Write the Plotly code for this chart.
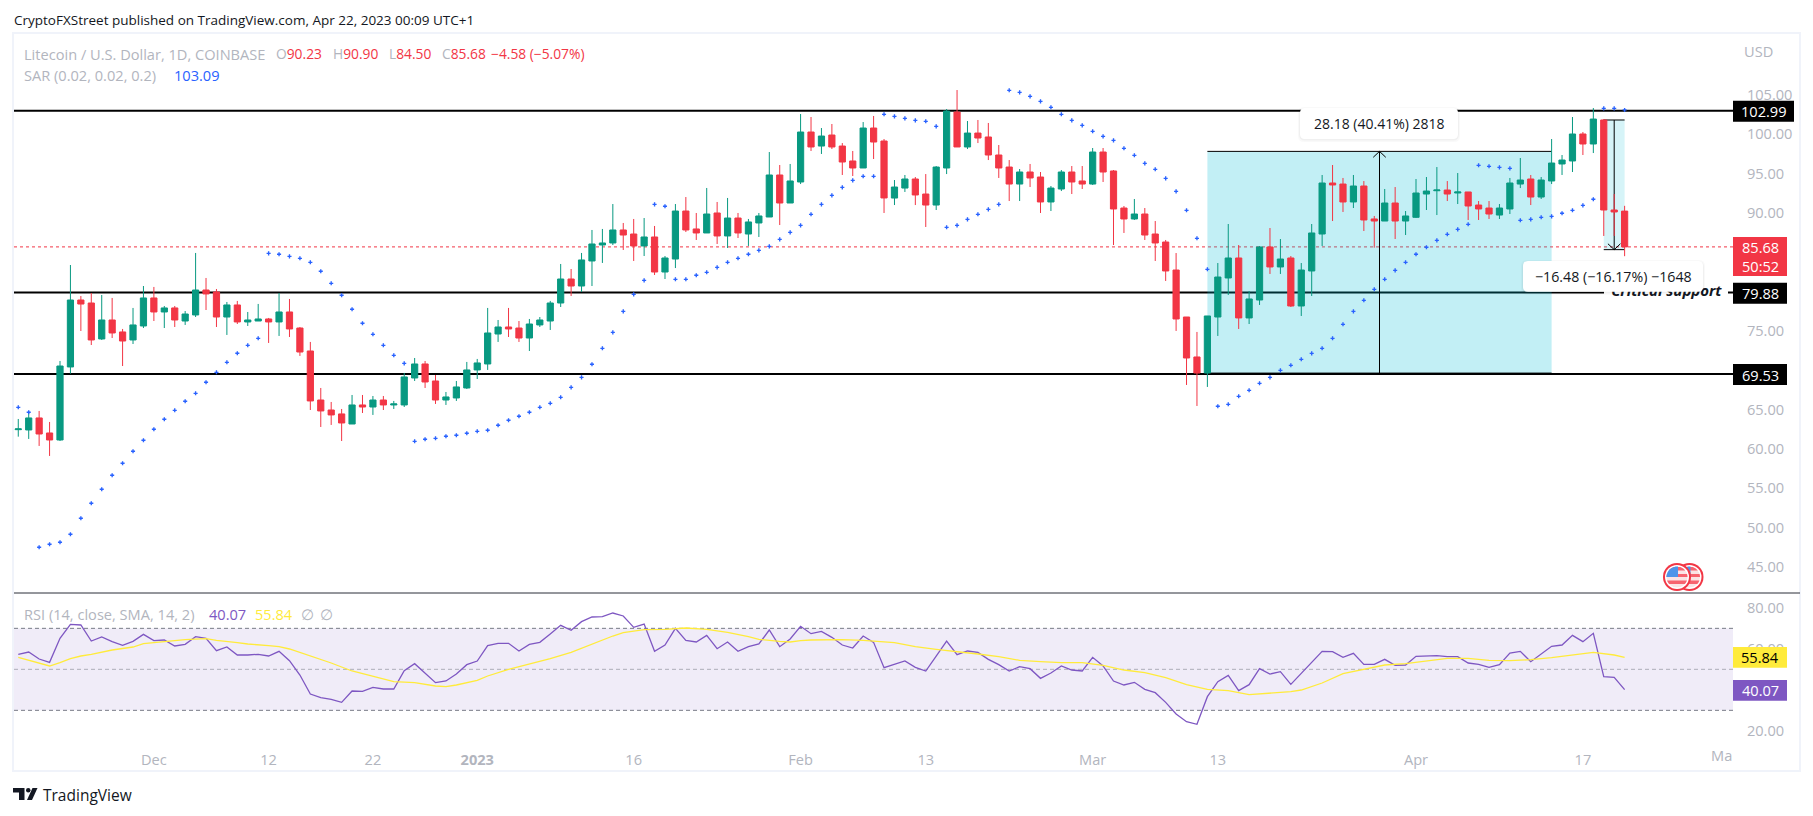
import numpy as np
import pandas as pd
import plotly.graph_objects as go

W, H = 1813, 816
FONT = "Open Sans"
INK = "#131722"
GREY = "#b2b5be"
GREEN = "#089981"
RED = "#f23645"
BLUE = "#2962ff"
PURPLE = "#7e57c2"
YELLOW = "#ffeb3b"

first_day = "2022-11-18"

opens = [62.45,62.41,63.94,62.03,61.14,70.42,78.93,78.55,73.98,76.39,
74.87,73.85,75.63,79.19,77.41,77.92,76.26,77.03,80.20,79.95,
76.77,78.30,76.14,76.26,76.52,76.14,77.41,75.37,72.45,66.22,
64.95,64.45,63.17,65.59,65.33,66.22,65.59,65.59,69.02,70.80,
68.64,66.22,66.48,67.75,70.04,70.80,74.61,75.50,75.37,74.10,
75.76,76.26,78.55,81.60,80.71,83.89,85.92,86.18,87.83,87.32,
85.80,86.94,82.49,84.14,90.24,87.96,87.45,89.99,87.07,89.35,
87.32,88.72,89.48,94.82,91.26,93.93,100.28,98.50,99.90,98.50,
96.60,95.71,100.79,99.14,91.89,93.16,94.31,92.40,91.00,95.71,
102.82,98.38,100.15,99.65,97.36,95.83,93.67,95.20,94.56,91.39,
93.04,95.20,94.06,93.67,97.74,95.33,90.62,89.23,89.86,87.32,
86.30,82.74,76.77,71.69,69.65,76.77,81.73,84.27,76.65,78.93,
85.67,83.13,84.27,78.17,82.62,87.32,93.80,93.67,91.39,93.42,
89.23,88.97,91.26,88.97,89.44,92.40,92.82,92.91,92.53,92.66,
91.00,90.62,89.73,90.50,93.67,94.31,92.02,94.06,96.22,96.60,
100.03,98.76,101.81,90.37,90.23]

closes = [62.55,63.94,61.90,61.14,70.54,78.93,78.42,73.85,76.39,74.74,
73.72,75.76,79.19,77.41,77.92,76.39,77.15,80.20,79.70,76.77,
78.30,76.14,76.39,76.52,76.14,77.41,75.25,72.32,66.10,64.83,
64.32,63.30,65.59,65.33,66.22,65.59,65.72,69.15,70.80,68.51,
66.22,66.61,67.88,70.04,70.93,74.74,75.50,75.25,74.10,75.88,
76.39,78.55,81.60,80.71,84.02,86.05,86.18,87.83,87.19,85.80,
86.94,82.49,84.27,90.24,87.83,87.45,89.86,87.07,89.35,87.45,
88.85,89.61,94.82,91.26,94.06,100.28,98.38,99.77,98.38,96.47,
95.71,100.79,99.01,91.90,93.29,94.31,92.28,91.00,95.83,102.95,
98.38,100.15,99.52,97.36,95.71,93.67,95.20,94.44,91.39,93.16,
95.20,93.93,93.67,97.74,95.20,90.50,89.23,89.86,87.19,86.18,
82.62,76.52,71.56,69.65,76.90,81.85,84.27,76.65,79.06,85.67,
83.13,84.14,78.17,82.74,87.45,93.80,93.55,91.39,93.42,89.10,
88.97,91.26,88.97,89.61,92.53,92.78,92.91,92.40,92.66,90.88,
90.50,89.86,90.62,93.80,94.18,92.02,94.18,96.34,96.72,100.03,
98.76,101.93,90.37,90.12,85.68]

highs = [63.81,64.74,64.83,63.43,71.18,83.38,79.44,79.82,79.57,79.19,
75.25,77.92,80.71,80.59,78.17,78.17,77.53,84.91,81.73,80.33,
78.68,78.81,77.41,78.43,76.65,79.82,79.06,75.50,73.60,67.75,
65.97,65.08,66.86,66.86,66.73,66.73,66.10,69.66,71.56,71.18,
69.40,67.24,68.64,71.06,71.44,77.92,76.39,77.92,76.26,76.52,
76.77,78.81,83.51,82.87,84.91,87.83,87.96,91.13,88.72,89.23,
89.35,88.34,84.52,91.13,92.02,89.99,93.17,91.39,91.90,89.99,
89.23,89.99,97.74,96.09,96.22,102.57,102.19,100.79,101.30,98.88,
97.87,101.55,102.32,99.39,94.18,94.82,94.56,94.94,95.96,103.20,
105.62,101.68,101.81,101.43,98.63,96.72,95.58,96.22,95.20,93.42,
95.45,95.96,95.96,98.25,98.25,95.45,90.88,91.77,90.62,88.97,
86.56,84.90,76.77,74.87,76.90,83.63,88.59,85.92,80.08,85.79,
88.08,86.68,84.52,83.63,88.59,94.82,96.09,94.44,94.82,94.05,
89.61,93.04,93.29,90.24,94.31,94.56,95.83,94.05,95.07,92.66,
91.51,91.51,91.13,94.44,96.98,94.82,94.56,99.39,97.36,102.19,
100.28,103.33,101.93,92.40,90.90]

lows = [61.56,61.27,60.38,59.11,61.01,69.57,74.99,73.21,73.85,74.10,
70.54,73.34,75.37,76.26,75.37,75.50,75.76,76.77,77.66,75.50,
74.49,75.88,75.63,76.26,73.47,74.36,74.23,71.82,64.95,62.79,
63.05,61.01,63.17,64.57,64.32,64.95,65.08,65.33,68.64,67.75,
65.72,65.59,66.10,67.62,68.89,70.04,73.60,74.23,73.60,72.45,
75.50,75.12,78.04,79.44,79.95,80.71,83.64,85.92,85.29,83.89,
84.52,82.11,81.60,82.99,87.57,86.56,87.45,86.05,85.54,86.81,
85.80,86.94,89.48,88.46,91.26,93.67,97.87,97.49,98.12,94.82,
94.69,95.71,96.85,89.99,91.00,92.66,91.00,88.21,90.37,94.94,
98.38,98.12,98.88,96.72,94.44,91.51,91.51,93.29,89.99,90.24,
92.78,92.40,93.04,93.55,93.93,85.92,87.45,89.10,86.56,83.89,
81.35,75.00,68.13,65.46,67.88,74.36,79.57,75.25,75.88,78.30,
82.24,82.24,78.04,76.90,79.44,85.79,88.97,90.12,90.62,87.70,
85.58,88.97,86.68,87.19,89.35,90.37,89.73,91.51,91.13,89.10,
89.10,89.23,89.23,89.86,93.16,91.00,91.77,93.67,94.82,95.20,
97.36,97.61,87.07,87.07,84.50]

sar = [65.29,64.66,47.51,47.89,48.14,49.16,51.19,53.10,54.88,56.66,
58.18,59.70,61.10,62.50,63.77,64.91,66.06,67.07,68.47,69.74,
71.01,72.16,73.17,74.06,84.86,84.74,84.48,84.23,83.72,82.58,
81.05,79.53,77.75,75.97,74.57,73.17,71.90,70.88,60.97,61.23,
61.35,61.61,61.74,61.99,62.24,62.37,63.01,63.64,64.15,64.66,
65.29,65.80,66.56,67.83,69.10,70.76,72.79,74.82,77.49,79.65,
81.43,91.09,90.84,81.56,81.56,82.07,82.45,83.08,83.72,84.23,
84.74,85.24,85.75,86.64,87.53,88.42,89.82,91.09,92.23,93.25,
94.14,94.65,94.65,102.53,102.27,102.02,101.76,101.64,101.00,88.17,
88.42,89.18,89.82,90.45,91.09,105.58,105.32,104.81,104.18,103.42,
102.53,101.76,101.13,100.37,99.73,99.22,98.21,97.32,96.30,95.54,
94.39,92.74,90.33,86.77,82.83,65.42,65.67,66.69,67.45,68.34,
69.10,69.99,70.63,71.39,72.15,72.79,74.06,75.84,77.49,78.89,
80.29,81.56,82.70,83.72,84.74,85.63,86.51,87.28,87.91,88.55,
96.05,95.92,95.79,95.66,89.06,89.18,89.44,89.56,89.95,90.33,
90.96,91.73,103.29,103.29,103.09]

rsi = [57.32,58.46,55.04,53.41,65.12,71.95,71.63,63.82,65.77,63.50,
61.71,63.66,67.07,63.98,64.31,61.38,62.20,65.93,65.12,59.11,
60.89,56.99,56.99,57.32,56.50,58.78,54.23,47.24,37.97,36.18,
35.37,33.90,39.43,39.27,41.22,40.41,40.41,49.35,52.76,48.05,
43.50,44.31,47.72,52.28,54.07,61.54,62.68,62.68,58.94,62.20,
63.17,67.24,71.46,69.02,73.25,75.53,75.69,77.48,76.02,70.49,
72.11,58.78,61.87,70.00,64.15,63.33,66.59,60.08,63.33,58.78,
61.06,62.36,69.19,61.06,64.80,70.98,67.40,68.54,65.61,61.87,
60.41,66.26,63.17,50.81,52.60,54.07,50.98,49.19,56.50,63.82,
57.15,58.94,58.29,54.88,52.28,49.19,51.30,50.33,45.61,48.21,
51.63,49.67,49.19,55.85,51.63,44.31,42.36,43.66,40.24,38.62,
33.90,28.21,24.47,23.17,36.67,43.98,47.07,39.59,42.52,50.33,
47.72,48.86,42.68,48.05,53.25,58.78,58.62,55.85,57.80,52.44,
52.44,54.88,51.95,52.11,56.34,56.50,56.67,56.18,56.18,53.09,
52.44,50.98,52.28,57.97,58.78,53.74,57.32,61.22,61.87,66.59,
63.50,67.56,46.42,46.10,40.07]

# RSI moving average, read at these candle numbers
sma_at = [0,1,3,4,5,6,7,9,11,12,14,16,18,19,21,22,24,25,26,28,30,32,34,36,38,40,41,42,44,45,47,49,51,53,55,57,58,60,62,64,66,68,70,71,73,74,75,76,79,81,84,
86,88,90,92,94,96,98,100,102,104,106,108,110,112,114,116,118,120,122,123,125,127,129,131,133,135,137,139,141,143,145,147,149,151,153,154]
sma_val = [55.85,54.39,51.63,53.25,55.20,56.50,57.32,59.43,60.89,62.52,63.50,64.47,64.96,64.15,63.01,62.36,61.54,61.06,59.92,56.50,53.09,49.19,46.42,43.98,43.50,41.87,41.54,42.36,44.63,46.75,50.00,52.44,55.20,58.29,62.36,66.26,67.89,69.35,69.51,70.16,69.51,68.05,65.93,64.63,63.66,63.33,63.98,64.31,64.47,64.15,63.01,
61.06,59.76,58.78,57.48,56.18,54.39,53.74,53.25,53.25,51.95,49.67,48.37,45.93,42.52,40.24,39.59,37.64,38.46,39.11,39.92,43.33,47.89,50.16,52.11,52.76,54.07,55.37,55.37,54.39,54.23,54.72,55.69,56.99,58.29,56.99,55.84]

tick_dates = ["2022-12-01","2022-12-12","2022-12-22","2023-01-01","2023-01-16","2023-02-01","2023-02-13","2023-03-01","2023-03-13","2023-04-01","2023-04-17"]
tick_text = ["Dec","12","22","<b>2023</b>","16","Feb","13","Mar","13","Apr","17"]
# 70, 80 and 85 sit under the value tags in the reference, so they never show
price_ticks = [45,50,55,60,65,75,90,95,100,105]
rsi_ticks = [20,60,80]

levels = [102.99, 79.88, 69.53]
last_price = 85.68
band = [30, 50, 70]
up_span = (114, 147, 69.64, 97.82)
down_span = (152, 154, 85.33, 101.81)

dates = pd.date_range(first_day, periods=len(closes), freq="D")
day = pd.Timedelta(days=1)


def px(x):
    return x / W


def py(y):
    return 1 - y / H


fig = go.Figure()
fig.add_trace(go.Candlestick(
    x=dates, open=opens, high=highs, low=lows, close=closes, xaxis="x", yaxis="y",
    increasing=dict(line=dict(color=GREEN, width=1), fillcolor=GREEN),
    decreasing=dict(line=dict(color=RED, width=1), fillcolor=RED),
    whiskerwidth=0, showlegend=False, hoverinfo="skip"))
fig.add_trace(go.Scatter(x=dates, y=sar, mode="markers", xaxis="x", yaxis="y",
                         marker=dict(symbol="cross", size=3.4, color=BLUE, line=dict(width=0)),
                         showlegend=False, hoverinfo="skip"))
fig.add_trace(go.Scatter(x=[dates[0] + 158 * day], y=[levels[1]], mode="text", xaxis="x", yaxis="y",
                         text=["Critical support"],
                         textfont=dict(family=FONT, size=15, color=INK, weight="bold", style="italic"),
                         showlegend=False, hoverinfo="skip"))
fig.add_trace(go.Scatter(x=dates, y=rsi, mode="lines", xaxis="x2", yaxis="y2",
                         line=dict(color=PURPLE, width=1.3), showlegend=False, hoverinfo="skip"))
fig.add_trace(go.Scatter(x=dates[sma_at], y=sma_val, mode="lines", xaxis="x2", yaxis="y2",
                         line=dict(color=YELLOW, width=1.3), showlegend=False, hoverinfo="skip"))

shapes = []


def hline(y, color="black", width=2, dash="solid", xref="x domain", yref="y"):
    shapes.append(dict(type="line", xref=xref, yref=yref, x0=0, x1=1, y0=y, y1=y, layer="below",
                       line=dict(color=color, width=width, dash=dash)))


def data_line(x0, y0, x1, y1, width=1):
    shapes.append(dict(type="line", xref="x", yref="y", x0=x0, x1=x1, y0=y0, y1=y1, layer="below",
                       line=dict(color="black", width=width)))


def paper_rect(x0, y0, x1, y1, fill, layer="above"):
    shapes.append(dict(type="rect", xref="paper", yref="paper", x0=px(x0), x1=px(x1), y0=py(y1), y1=py(y0),
                       fillcolor=fill, line=dict(width=0), layer=layer))


def rounded(x0, y0, x1, y1, r, fill):
    path = (f"M {px(x0+r)} {py(y0)} L {px(x1-r)} {py(y0)} Q {px(x1)} {py(y0)} {px(x1)} {py(y0+r)} "
            f"L {px(x1)} {py(y1-r)} Q {px(x1)} {py(y1)} {px(x1-r)} {py(y1)} "
            f"L {px(x0+r)} {py(y1)} Q {px(x0)} {py(y1)} {px(x0)} {py(y1-r)} "
            f"L {px(x0)} {py(y0+r)} Q {px(x0)} {py(y0)} {px(x0+r)} {py(y0)} Z")
    shapes.append(dict(type="path", xref="paper", yref="paper", path=path, fillcolor=fill,
                       line=dict(width=0), layer="above"))


for lv in levels:
    hline(lv)
hline(last_price, color=RED, width=1, dash="dot")
paper_rect(1604, 283, 1728, 302, "white", layer="below")

# measure tools
for (a, b, lo, hi), alpha in ((up_span, 0.24), (down_span, 0.16)):
    shapes.append(dict(type="rect", xref="x", yref="y", x0=dates[a], x1=dates[b], y0=lo, y1=hi,
                       fillcolor=f"rgba(0,188,212,{alpha})", line=dict(width=0), layer="below"))
    data_line(dates[a], hi, dates[b], hi)
    data_line(dates[a], lo, dates[b], lo)
    xm = dates[a] + (dates[b] - dates[a]) / 2
    data_line(xm, lo, xm, hi)
    if a == up_span[0]:
        tip, sign = hi, -1
    else:
        tip, sign = lo, 1
    data_line(xm, tip, xm - 0.6 * day, tip + sign * 0.75)
    data_line(xm, tip, xm + 0.6 * day, tip + sign * 0.75)

# RSI band
shapes.append(dict(type="rect", xref="x2 domain", yref="y2", x0=0, x1=1, y0=band[0], y1=band[2],
                   fillcolor="rgba(126,87,194,0.115)", line=dict(width=0), layer="below"))
hline(band[0], color="#787b86", width=1, dash="4px,3px", xref="x2 domain", yref="y2")
hline(band[1], color="rgba(120,123,134,0.55)", width=1, dash="4px,3px", xref="x2 domain", yref="y2")
hline(band[2], color="#787b86", width=1, dash="4px,3px", xref="x2 domain", yref="y2")

# frame and divider
shapes.append(dict(type="rect", xref="paper", yref="paper", x0=px(13), x1=px(1800), y0=py(771), y1=py(33),
                   line=dict(color="#f0f3fa", width=2), layer="above"))
shapes.append(dict(type="line", xref="paper", yref="paper", x0=px(14), x1=px(1800), y0=py(593), y1=py(593),
                   line=dict(color="#2a2e39", width=1), layer="above"))

# floating value boxes
for box in ((1300, 108, 1458, 139), (1523, 261, 1703, 291.7)):
    rounded(box[0] - 2, box[1] - 1, box[2] + 2, box[3] + 3, 6, "rgba(0,0,0,0.025)")
    rounded(box[0] - 1, box[1], box[2] + 1, box[3] + 1.5, 6, "rgba(0,0,0,0.035)")
    rounded(*box, 5, "white")

# price tags
tags = [
    (1733, 100.7, 1794, 121.7, "black", "102.99", "white"),
    (1733, 282.7, 1787, 303.7, "black", "79.88", "white"),
    (1733, 364, 1787, 385, "black", "69.53", "white"),
    (1733, 647, 1787, 667.7, YELLOW, "55.84", "black"),
    (1733, 680, 1787, 700.7, PURPLE, "40.07", "white"),
]
paper_rect(1733, 237, 1787, 276, RED)
for t in tags:
    paper_rect(t[0], t[1], t[2], t[3], t[4])


# flags
def disc_poly(cx, cy, r, top, bottom, right=None):
    ys = np.linspace(top, bottom, 9)
    half = np.sqrt(np.maximum(r * r - (ys - cy) ** 2, 0))
    xr = cx + half if right is None else np.minimum(cx + half, right)
    pts = list(zip(cx - half, ys)) + list(zip(xr[::-1], ys[::-1]))
    d = "M " + " L ".join(f"{px(a)} {py(b)}" for a, b in pts) + " Z"
    return d


for cx in (1689.5, 1677):
    cy = 577
    for r, col in ((14, RED), (12, "white"), (10.5, "#fbe3e5")):
        shapes.append(dict(type="circle", xref="paper", yref="paper", x0=px(cx - r), x1=px(cx + r),
                           y0=py(cy + r), y1=py(cy - r), fillcolor=col, line=dict(width=0), layer="above"))
    for top, bottom in ((cy - 10, cy - 6.5), (cy - 3, cy), (cy + 3.5, cy + 7)):
        shapes.append(dict(type="path", xref="paper", yref="paper", path=disc_poly(cx, cy, 10.5, top, bottom),
                           fillcolor="#f7636f", line=dict(width=0), layer="above"))
    shapes.append(dict(type="path", xref="paper", yref="paper", path=disc_poly(cx, cy, 10.5, cy - 10.4, cy, right=cx + 1),
                       fillcolor="#4d94ea", line=dict(width=0), layer="above"))

# TradingView logo
for path in (
    f"M {px(13)} {py(788)} L {px(24.5)} {py(788)} L {px(24.5)} {py(800)} L {px(19)} {py(800)} L {px(19)} {py(792.5)} L {px(13)} {py(792.5)} Z",
    f"M {px(32.5)} {py(788)} L {px(37.5)} {py(788)} L {px(32)} {py(800)} L {px(27)} {py(800)} Z",
):
    shapes.append(dict(type="path", xref="paper", yref="paper", path=path, fillcolor=INK, line=dict(width=0), layer="above"))
shapes.append(dict(type="circle", xref="paper", yref="paper", x0=px(26), x1=px(30.5), y0=py(792.5), y1=py(788),
                   fillcolor=INK, line=dict(width=0), layer="above"))

annotations = []


def label(x, y, text, color=INK, size=14.6, anchor="left", **kw):
    annotations.append(dict(xref="paper", yref="paper", x=px(x), y=py(y), text=text, showarrow=False,
                            xanchor=anchor, yanchor="middle", align=anchor, borderpad=0,
                            font=dict(family=kw.pop("family", FONT), size=size, color=color), **kw))


label(13, 20, "CryptoFXStreet published on TradingView.com, Apr 22, 2023 00:09 UTC+1", size=13.5)
label(23, 54, "Litecoin / U.S. Dollar, 1D, COINBASE", GREY)
for xpos, head, val in ((275, "O", "90.23"), (332, "H", "90.90"), (388, "L", "84.50"), (441, "C", "85.68")):
    label(xpos, 54, f"<span style='color:{GREY}'>{head}</span>{val}", RED, size=13.8)
label(490, 54, "−4.58 (−5.07%)", RED, size=13.8)
label(23, 75, "SAR (0.02, 0.02, 0.2)", GREY)
label(173, 75, "103.09", BLUE)
label(1758, 51, "USD", GREY, anchor="center")
label(23, 614, "RSI (14, close, SMA, 14, 2)", GREY)
label(208, 614, "40.07", PURPLE)
label(254, 614, "55.84", YELLOW)
label(300, 614, "∅", GREY)
label(319, 614, "∅", GREY)
label(1733, 755, "Ma", GREY, anchor="right")
label(42, 795, "TradingView", INK, size=15.5)
label(1379, 123, "28.18 (40.41%) 2818", INK, size=14, anchor="center")
label(1613, 276, "−16.48 (−16.17%) −1648", INK, size=14.2, anchor="center")
for t in tags:
    label((t[0] + t[2]) / 2, (t[1] + t[3]) / 2, t[5], t[6], anchor="center")
label(1760, 247, "85.68", "white", anchor="center")
label(1760, 266, "50:52", "white", anchor="center")

x_range = [dates[0] - 0.41 * day, dates[0] + 164.39 * day]
axis_font = dict(family=FONT, size=14.6, color=GREY)
fig.update_layout(
    width=W, height=H, margin=dict(l=0, r=0, t=0, b=0), autosize=False, boxgap=0.15,
    paper_bgcolor="white", plot_bgcolor="white", showlegend=False,
    xaxis=dict(domain=[px(14), px(1733)], range=x_range, type="date", anchor="y", showgrid=False, zeroline=False,
               showticklabels=False, ticks="", rangeslider=dict(visible=False), showline=False),
    yaxis=dict(domain=[py(593), py(34)], range=[41.69, 112.74], side="right", anchor="x", showgrid=False, zeroline=False,
               tickmode="array", tickvals=price_ticks, ticktext=[f"{v:.2f}" for v in price_ticks],
               ticks="outside", ticklen=10, tickcolor="rgba(0,0,0,0)", tickfont=axis_font, showline=False),
    xaxis2=dict(domain=[px(14), px(1733)], range=x_range, type="date", anchor="y2", showgrid=False, zeroline=False,
                tickmode="array", tickvals=tick_dates, ticktext=tick_text, tickangle=0,
                ticks="outside", ticklen=1, tickcolor="rgba(0,0,0,0)", tickfont=axis_font, showline=False),
    yaxis2=dict(domain=[py(745), py(593)], range=[13.09, 87.24], side="right", anchor="x2", showgrid=False, zeroline=False,
                tickmode="array", tickvals=rsi_ticks, ticktext=[f"{v:.2f}" for v in rsi_ticks],
                ticks="outside", ticklen=10, tickcolor="rgba(0,0,0,0)", tickfont=axis_font, showline=False),
    shapes=shapes, annotations=annotations,
)

fig.write_html("out.html", config=dict(displayModeBar=False),
               post_script="document.body.style.margin='0';document.body.style.overflow='hidden';")
